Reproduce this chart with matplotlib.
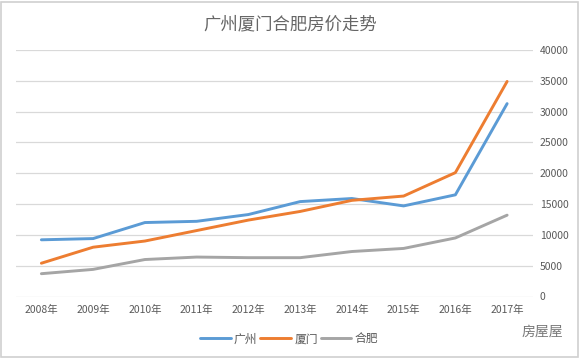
import matplotlib
matplotlib.use("Agg")
import matplotlib.pyplot as plt
from matplotlib.patches import Rectangle

plt.rcParams['font.family'] = ['Noto Sans CJK SC', 'DejaVu Sans']

years = ["2008年", "2009年", "2010年", "2011年", "2012年", "2013年", "2014年", "2015年", "2016年", "2017年"]
guangzhou = [9200, 9400, 12000, 12200, 13300, 15400, 15900, 14700, 16500, 31300]
xiamen = [5400, 8000, 9000, 10700, 12400, 13800, 15600, 16300, 20100, 34900]
hefei = [3700, 4400, 6000, 6400, 6300, 6300, 7300, 7800, 9500, 13200]
series_names = ["广州", "厦门", "合肥"]
yticks = [0, 5000, 10000, 15000, 20000, 25000, 30000, 35000, 40000]
title = "广州厦门合肥房价走势"

W, H = 580, 358
fig = plt.figure(figsize=(W / 100, H / 100), dpi=100)
fig.patch.set_facecolor("white")

left, right, top, bottom = 15.5, 533, 50, 296.5
ax = fig.add_axes([left / W, 1 - bottom / H, (right - left) / W, (bottom - top) / H])
ax.set_facecolor("white")

x = list(range(len(years)))
colors = ["#5B9BD5", "#ED7D31", "#A5A5A5"]
for vals, name, c in zip([guangzhou, xiamen, hefei], series_names, colors):
    ax.plot(x, vals, color=c, lw=2.1, label=name, solid_capstyle="round", solid_joinstyle="round")

ax.set_xlim(-0.5, len(years) - 0.5)
ax.set_ylim(0, 40000)
ax.set_yticks(yticks)
ax.set_yticklabels([str(v) for v in yticks])
ax.yaxis.tick_right()
ax.set_xticks(x)
ax.set_xticklabels(years)
ax.tick_params(axis="both", length=0, labelsize=7.5, labelcolor="#595959")
ax.tick_params(axis="y", pad=5)
ax.tick_params(axis="x", pad=6)
ax.grid(axis="y", color="#D9D9D9", lw=0.9)
ax.set_axisbelow(True)
for s in ax.spines.values():
    s.set_visible(False)

fig.text(290 / W, 1 - 24 / H, title, ha="center", va="center", fontsize=12.5, color="#666666")

leg = fig.legend(loc="center", bbox_to_anchor=(289 / W, 1 - 339 / H), ncol=3, frameon=False,
                 fontsize=8.5, handlelength=2.6, columnspacing=0.25, handletextpad=0.25)
for t in leg.get_texts():
    t.set_color("#595959")

fig.text(542 / W, 1 - 332 / H, "房屋屋", ha="center", va="center", fontsize=10, color="#777777", style="italic")

fig.add_artist(Rectangle((1 / W, 1 / H), (W - 3) / W, (H - 3) / H, transform=fig.transFigure,
                         fill=False, edgecolor="#D0D0D0", lw=1.2))

fig.savefig("out.png", dpi=100, facecolor="white")
